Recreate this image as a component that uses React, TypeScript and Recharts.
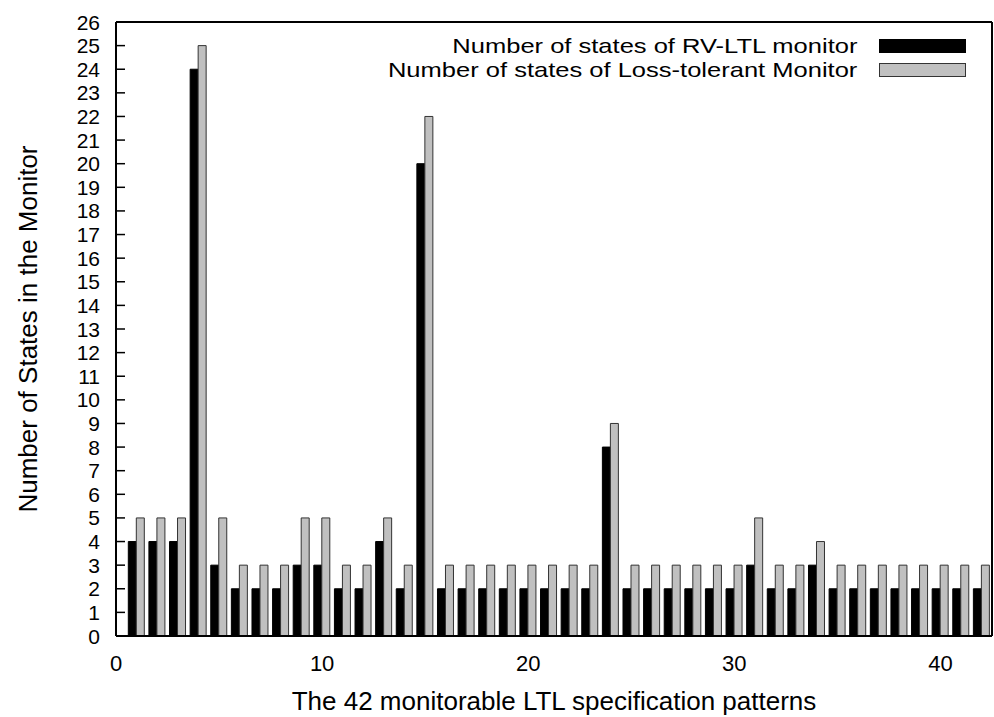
import React from 'react';
import {
  ComposedChart,
  Bar,
  XAxis,
  YAxis,
  ReferenceLine,
} from 'recharts';

// pattern index 1..42
const PATTERNS = Array.from({ length: 42 }, (_, i) => i + 1);

const RV_LTL_STATES = [
  4, 4, 4, 24, 3, 2, 2, 2, 3, 3,
  2, 2, 4, 2, 20, 2, 2, 2, 2, 2,
  2, 2, 2, 8, 2, 2, 2, 2, 2, 2,
  3, 2, 2, 3, 2, 2, 2, 2, 2, 2,
  2, 2,
];

const LOSS_TOLERANT_STATES = [
  5, 5, 5, 25, 5, 3, 3, 3, 5, 5,
  3, 3, 5, 3, 22, 3, 3, 3, 3, 3,
  3, 3, 3, 9, 3, 3, 3, 3, 3, 3,
  5, 3, 3, 4, 3, 3, 3, 3, 3, 3,
  3, 3,
];

const X_TICKS = [0, 10, 20, 30, 40];
const Y_TICKS = Array.from({ length: 27 }, (_, i) => i);

const SERIES = [
  { key: 'rvltl', name: 'Number of states of RV-LTL monitor', fill: '#000000', stroke: '#000000' },
  { key: 'lossTolerant', name: 'Number of states of Loss-tolerant Monitor', fill: '#c0c0c0', stroke: '#333333' },
];

const data = PATTERNS.map((p, i) => ({
  pattern: p,
  rvltl: RV_LTL_STATES[i],
  lossTolerant: LOSS_TOLERANT_STATES[i],
}));

const FONT = '"Liberation Sans", Arial, Helvetica, sans-serif';
const TICK_LEN = 9;

const LeftTick = ({ x, y, payload }: any) => (
  <g>
    <line x1={x} y1={y} x2={x + TICK_LEN} y2={y} stroke="#000" strokeWidth={1.5} />
    <text x={x - 16} y={y} dy="0.36em" textAnchor="end" fontSize={21} fontFamily={FONT} fill="#000">
      {payload.value}
    </text>
  </g>
);

const RightTick = ({ x, y }: any) => (
  <line x1={x - TICK_LEN} y1={y} x2={x} y2={y} stroke="#000" strokeWidth={1.5} />
);

const BottomTick = ({ x, y, payload }: any) => (
  <text x={x} y={y + 35} textAnchor="middle" fontSize={22} fontFamily={FONT} fill="#000">
    {payload.value}
  </text>
);

export default function App() {
  return (
    <div style={{ position: 'absolute', left: 0, top: 0, width: 994, height: 717, background: '#fff' }}>
      <ComposedChart
        width={994}
        height={717}
        data={data}
        margin={{ top: 22, right: 2, bottom: 0, left: 0 }}
        barGap={0}
      >
        <XAxis
          type="number"
          dataKey="pattern"
          domain={[0, 42.5]}
          ticks={X_TICKS}
          allowDataOverflow
          height={81}
          tickSize={0}
          tickMargin={0}
          tickLine={false}
          axisLine={{ stroke: '#000', strokeWidth: 2 }}
          tick={<BottomTick />}
          label={{
            content: ({ viewBox }: any) => (
              <text
                x={viewBox.x + viewBox.width / 2}
                y={viewBox.y + 74}
                textAnchor="middle"
                fontSize={26}
                fontFamily={FONT}
                fill="#000"
              >
                The 42 monitorable LTL specification patterns
              </text>
            ),
          }}
        />
        <YAxis
          yAxisId="left"
          domain={[0, 26]}
          ticks={Y_TICKS}
          interval={0}
          width={116}
          tickSize={0}
          tickMargin={0}
          tickLine={false}
          axisLine={{ stroke: '#000', strokeWidth: 2 }}
          tick={<LeftTick />}
          label={{
            content: ({ viewBox }: any) => {
              const cx = 28;
              const cy = viewBox.y + viewBox.height / 2;
              return (
                <text
                  x={cx}
                  y={cy}
                  transform={`rotate(-90, ${cx}, ${cy})`}
                  textAnchor="middle"
                  dominantBaseline="central"
                  fontSize={26}
                  fontFamily={FONT}
                  fill="#000"
                >
                  Number of States in the Monitor
                </text>
              );
            },
          }}
        />
        <YAxis
          yAxisId="right"
          orientation="right"
          domain={[0, 26]}
          ticks={Y_TICKS}
          interval={0}
          width={0}
          tickSize={0}
          tickMargin={0}
          tickLine={false}
          axisLine={false}
          tick={<RightTick />}
        />
        <ReferenceLine yAxisId="left" y={26} stroke="#000" strokeWidth={2} />
        <ReferenceLine yAxisId="left" x={42.5} stroke="#000" strokeWidth={2} />
        {SERIES.map((s) => (
          <Bar
            key={s.key}
            yAxisId="left"
            dataKey={s.key}
            name={s.name}
            fill={s.fill}
            stroke={s.stroke}
            strokeWidth={1}
            barSize={8}
            isAnimationActive={false}
          />
        ))}
      </ComposedChart>
      {/* legend, top-right inside the frame */}
      <div style={{ position: 'absolute', top: 34, right: 28, fontFamily: FONT, fontSize: 21 }}>
        {SERIES.map((s) => (
          <div key={s.key} style={{ display: 'flex', alignItems: 'center', justifyContent: 'flex-end', height: 24 }}>
            <span
              style={{
                display: 'inline-block',
                lineHeight: '24px',
                whiteSpace: 'nowrap',
                transform: 'scaleX(1.215)',
                transformOrigin: 'right center',
              }}
            >
              {s.name}
            </span>
            <span
              style={{
                display: 'inline-block',
                width: 85,
                height: 12,
                marginLeft: 22,
                background: s.fill,
                border: `1px solid ${s.stroke}`,
              }}
            />
          </div>
        ))}
      </div>
    </div>
  );
}
